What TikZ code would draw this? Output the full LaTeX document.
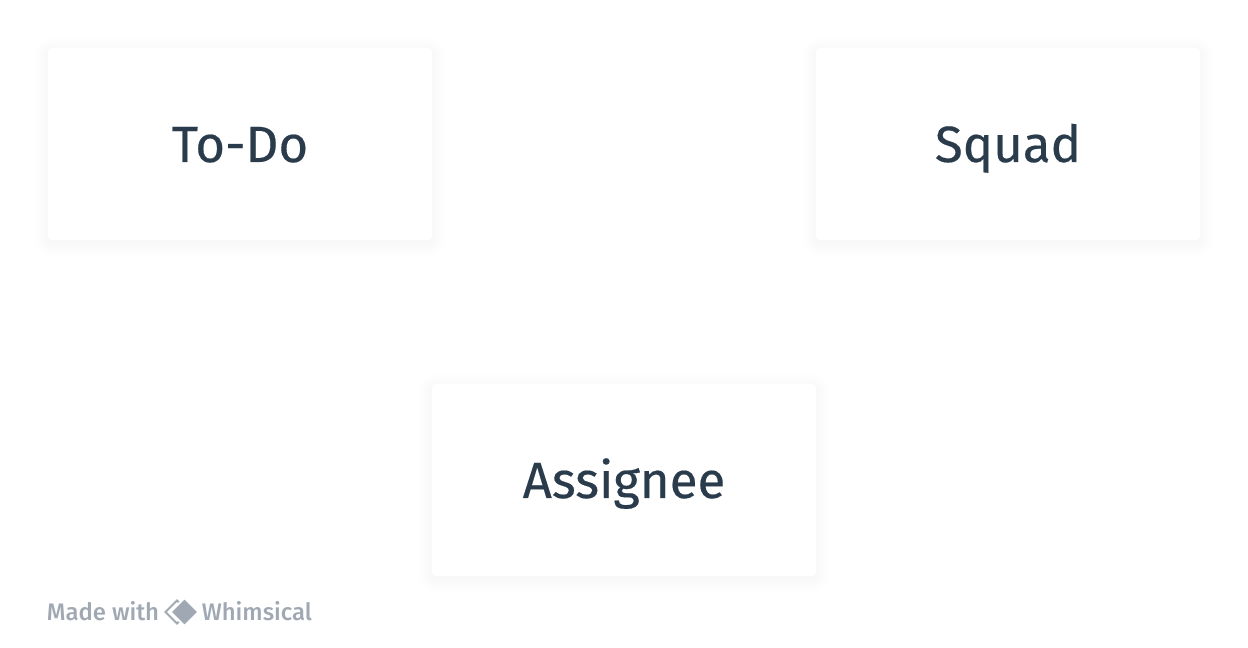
\documentclass[tikz,border=0pt]{standalone}
\usepackage{fontspec}
\setmainfont[FakeBold=0.35]{Fira Sans}
\newfontfamily\piedfont{Fira Sans Medium}
\usepackage{tikz}
\definecolor{encre}{HTML}{2A3B4B}
\definecolor{gris}{HTML}{A0A9B3}
\begin{document}
\begin{tikzpicture}
  \tikzstyle{carte}=[rectangle, fill=white, rounded corners=0.08cm, minimum width=7.68cm, minimum height=3.84cm, inner sep=0pt, text height=0.72cm, text depth=0pt, text=encre, font=\fontsize{29}{35}\selectfont]
  \tikzstyle{pied}=[inner sep=0pt, text height=0.28cm, text depth=0pt, text=gris, font=\piedfont\fontsize{13.6}{16}\selectfont]
  \useasboundingbox (0,0) rectangle (24.96,12.96);
  % ombres
  \foreach \x/\y in {4.8/10.08, 20.16/10.08, 12.48/3.36}
    \foreach \s in {0.02,0.06,...,0.26}
      \fill[black, opacity=0.002, rounded corners=0.08cm+\s cm] (\x-3.84-\s,\y-1.92-\s-0.06) rectangle (\x+3.84+\s,\y+1.92+\s-0.06);
  \node[carte] (todo) at (4.8,10.08) {To-Do};
  \node[carte] (squad) at (20.16,10.08) {Squad};
  \node[carte] (assignee) at (12.48,3.36) {Assignee};
  \node[pied, anchor=west] (made) at (0.93,0.68) {Made with};
  \draw[gris, line width=0.04cm] (3.31,0.72) -- (3.54,0.95) -- (3.77,0.72) -- (3.54,0.49) -- cycle;
  \fill[gris, draw=white, line width=0.04cm] (3.41,0.72) -- (3.69,1.0) -- (3.97,0.72) -- (3.69,0.44) -- cycle;
  \node[pied, anchor=west] (whimsical) at (4.03,0.68) {Whimsical};
\end{tikzpicture}
\end{document}
